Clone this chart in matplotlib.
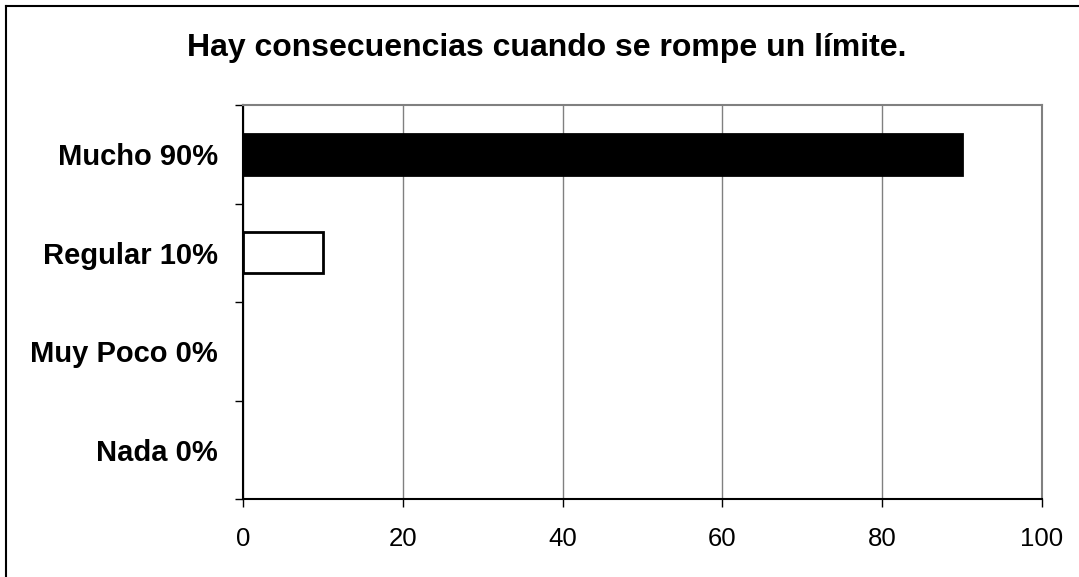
import matplotlib
matplotlib.use("Agg")
import matplotlib.pyplot as plt
from matplotlib.lines import Line2D

plt.rcParams['font.family'] = ['Liberation Sans', 'DejaVu Sans']

categories = ["Mucho 90%", "Regular 10%", "Muy Poco 0%", "Nada 0%"]
values = [90, 10, 0, 0]
colors = ["black", "white", "white", "white"]
xticks = [0, 20, 40, 60, 80, 100]

fig = plt.figure(figsize=(10.79, 5.77), dpi=100)
ax = fig.add_axes([243 / 1079, 1 - 499 / 577, (1042 - 243) / 1079, (499 - 105) / 577])

pos = list(range(len(categories)))
for i in pos:
    if values[i] > 0:
        ax.barh(i, values[i], height=0.42, color=colors[i], edgecolor="black", linewidth=2, zorder=3)

ax.set_xlim(0, 100)
ax.set_ylim(len(categories) - 0.5, -0.5)
ax.set_xticks(xticks)
ax.set_xticklabels([str(t) for t in xticks], fontsize=18.5)
ax.set_yticks(pos)
ax.set_yticklabels(categories, fontsize=21, fontweight="bold")
ax.tick_params(axis="y", length=0, pad=18)
ax.set_yticks([i - 0.5 for i in range(len(categories) + 1)], minor=True)
ax.tick_params(axis="y", which="minor", length=6, width=1, direction="out")
ax.tick_params(axis="x", length=6, width=1, direction="out", pad=14)

ax.grid(axis="x", color="#808080", linewidth=1, zorder=0)
ax.set_axisbelow(True)
ax.spines["left"].set_color("black")
ax.spines["bottom"].set_color("black")
ax.spines["left"].set_linewidth(1.5)
ax.spines["bottom"].set_linewidth(1.5)
ax.spines["top"].set_color("#808080")
ax.spines["right"].set_color("#808080")
ax.spines["top"].set_linewidth(1.5)
ax.spines["right"].set_linewidth(1.5)

fig.text(0.507, 1 - 48 / 577, "Hay consecuencias cuando se rompe un límite.",
         ha="center", va="center", fontsize=23, fontweight="bold")

# outer chart border (left and top visible)
fig.add_artist(Line2D([6 / 1079, 6 / 1079], [0, 1 - 6 / 577], color="black", linewidth=1.5))
fig.add_artist(Line2D([6 / 1079, 1], [1 - 6 / 577, 1 - 6 / 577], color="black", linewidth=1.5))

fig.savefig("out.png", dpi=100)
